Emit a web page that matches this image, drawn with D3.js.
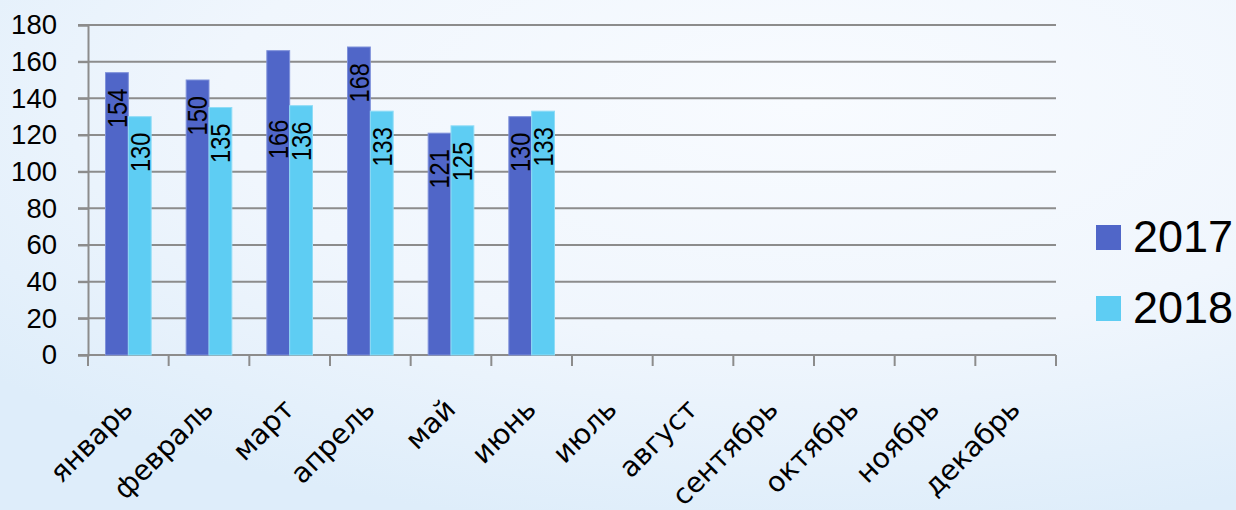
<!DOCTYPE html>
<html><head><meta charset="utf-8">
<script src="https://cdn.jsdelivr.net/npm/d3@7"></script>
<style>
html,body{margin:0;padding:0;}
body{width:1236px;height:510px;overflow:hidden;}
</style>
</head><body>
<svg id="c" width="1236" height="510"></svg>
<script>
const months = ["январь","февраль","март","апрель","май","июнь","июль","август","сентябрь","октябрь","ноябрь","декабрь"];
const seriesNames = ["2017","2018"];
const values2017 = [154,150,166,168,121,130,null,null,null,null,null,null];
const values2018 = [130,135,136,133,125,133,null,null,null,null,null,null];
const yTicks = [0,20,40,60,80,100,120,140,160,180];
const colors = ["#5066c8","#5ecdf3"];
// manual label nudge (px, downward) for overlapping label
const labelNudge = {"март|2017": 53};

(function(){
const svg = d3.select("#c");
const defs = svg.append("defs");
const g0 = defs.append("radialGradient").attr("id","bg").attr("cx","65%").attr("cy","20%").attr("r","85%");
g0.append("stop").attr("offset","0%").attr("stop-color","#f8fbff");
g0.append("stop").attr("offset","55%").attr("stop-color","#f0f6fd");
g0.append("stop").attr("offset","100%").attr("stop-color","#deedfa");
svg.append("rect").attr("width",1236).attr("height",510).attr("fill","url(#bg)");

const pl=88, pr=1056, pt=25, pb=355;
const x = d3.scaleBand().domain(months).range([pl,pr]).paddingInner(0.434).paddingOuter(0.217);
const xs = d3.scaleBand().domain(seriesNames).range([0,x.bandwidth()]);
const y = d3.scaleLinear().domain([0,180]).range([pb,pt]);

const grid = svg.append("g");
grid.selectAll("line").data(yTicks).join("line")
  .attr("x1",pl-10).attr("x2",pr)
  .attr("y1",d=>y(d)).attr("y2",d=>y(d))
  .attr("stroke","#8c8c8c").attr("stroke-width",2);

const yAxis = svg.append("g").attr("transform",`translate(${pl},0)`)
  .call(d3.axisLeft(y).tickValues(yTicks).tickSize(10).tickPadding(21));
yAxis.select(".domain").attr("stroke","#8c8c8c").attr("stroke-width",2);
yAxis.selectAll(".tick line").attr("stroke","#8c8c8c").attr("stroke-width",2);
yAxis.selectAll("text").attr("font-family","'Liberation Sans', Arial, sans-serif").attr("font-size",27.5).attr("fill","#000");

const step = x.step();
const boundaries = d3.range(months.length+1).map(i=>pl+i*step);
svg.append("g").selectAll("line").data(boundaries).join("line")
  .attr("x1",d=>d).attr("x2",d=>d).attr("y1",pb).attr("y2",pb+11)
  .attr("stroke","#8c8c8c").attr("stroke-width",2);
svg.append("line").attr("x1",pl).attr("x2",pr).attr("y1",pb).attr("y2",pb)
  .attr("stroke","#8c8c8c").attr("stroke-width",2);

const data = [];
months.forEach((m,i)=>{
  [values2017[i],values2018[i]].forEach((v,j)=>{ if(v!=null) data.push({m, s:seriesNames[j], v, j}); });
});
const bars = svg.append("g");
bars.selectAll("rect").data(data).join("rect")
  .attr("x",d=>x(d.m)+xs(d.s)).attr("width",xs.bandwidth())
  .attr("y",d=>y(d.v)).attr("height",d=>y(0)-y(d.v))
  .attr("fill",d=>colors[d.j])
  .attr("stroke",d=>d.j===0?"#7f91da":"#8fdcf6").attr("stroke-width",1);

bars.selectAll("text").data(data).join("text")
  .attr("transform",d=>{
    const cx = x(d.m)+xs(d.s)+xs.bandwidth()/2;
    const cy = y(d.v)+16+(labelNudge[d.m+"|"+d.s]||0);
    return `translate(${cx},${cy}) rotate(-90) scale(0.86,1)`;
  })
  .attr("text-anchor","end").attr("dy","0.36em")
  .attr("font-family","'Liberation Sans', Arial, sans-serif")
  .attr("font-size",27.5).attr("fill","#000")
  .text(d=>d.v);

svg.append("g").selectAll("text").data(months).join("text")
  .attr("transform",d=>`translate(${x(d)+x.bandwidth()/2+6},${411}) rotate(-45)`)
  .attr("text-anchor","end")
  .attr("font-family","'DejaVu Sans', sans-serif")
  .attr("font-size",28).attr("fill","#000")
  .text(d=>d);

const leg = svg.append("g");
seriesNames.forEach((s,i)=>{
  const yy = 225 + i*71;
  leg.append("rect").attr("x",1096).attr("y",yy).attr("width",25).attr("height",25).attr("fill",colors[i]);
  leg.append("text").attr("x",1133).attr("y",yy+27)
    .attr("font-family","'Liberation Sans', Arial, sans-serif").attr("font-size",45).attr("fill","#000").text(s);
});
})();
</script>
</body></html>
